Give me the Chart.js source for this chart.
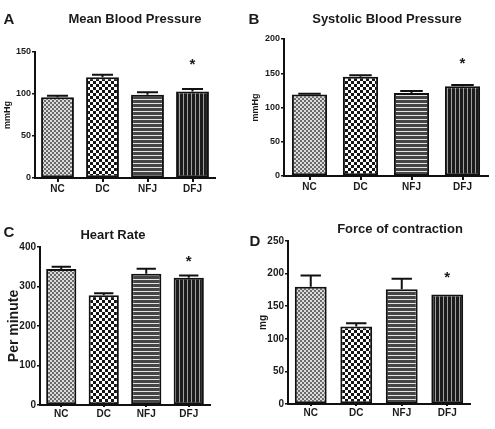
<!DOCTYPE html>
<html>
<head>
<title>Cardiovascular parameters</title>
<script src="https://cdn.jsdelivr.net/npm/chart.js"></script>
<style>
  body { margin: 0; background: #fff; font-family: "Liberation Sans", Arial, sans-serif; }
  #wrap { position: relative; width: 495px; height: 429px; }
  #wrap canvas { position: absolute; left: 0; top: 0; }
  .lbl { position: absolute; font-weight: bold; color: #1a1a1a; white-space: nowrap;
         transform: translate(-50%, -50%); line-height: 1; }
</style>
</head>
<body>
<div id="wrap">
  <canvas id="cA" width="495" height="429"></canvas>
  <canvas id="cB" width="495" height="429"></canvas>
  <canvas id="cC" width="495" height="429"></canvas>
  <canvas id="cD" width="495" height="429"></canvas>

  <div class="lbl" style="left:9px;top:18px;font-size:15px">A</div>
  <div class="lbl" style="left:135px;top:18px;font-size:13px">Mean Blood Pressure</div>
  <div class="lbl" style="left:254px;top:18px;font-size:15px">B</div>
  <div class="lbl" style="left:387px;top:18px;font-size:13px">Systolic Blood Pressure</div>
  <div class="lbl" style="left:9px;top:231px;font-size:15px">C</div>
  <div class="lbl" style="left:113px;top:234px;font-size:13px">Heart Rate</div>
  <div class="lbl" style="left:255px;top:240px;font-size:15px">D</div>
  <div class="lbl" style="left:400px;top:228px;font-size:13px">Force of contraction</div>
</div>
<script>
// groups
const groups = ['NC', 'DC', 'NFJ', 'DFJ'];

// mean values and top of the error bar (mean + SEM)
const mbpMean = [96, 120, 99, 103];
const mbpUpper = [98, 123, 102, 106];
const sbpMean = [119, 145, 121, 131];
const sbpUpper = [120, 147, 124, 133];
const hrMean = [344, 278, 332, 322];
const hrUpper = [350, 283, 345, 328];
const focMean = [180, 119, 176, 168];
const focUpper = [197, 124, 192, 168];

// where the significance star sits above DFJ, in axis units
const starValue = [138, 168, 371, 198];

// axis ranges
const yMaxes = [150, 200, 400, 250];
const ySteps = [50, 50, 100, 50];

const W = 495, H = 429;
const ink = '#1a1a1a';

function tile(size, paint) {
  const c = document.createElement('canvas');
  c.width = size; c.height = size;
  const g = c.getContext('2d');
  paint(g);
  return g.createPattern(c, 'repeat');
}

// fill patterns, one per group
const fills = [
  tile(4, g => {   // fine grey check
    g.fillStyle = '#dcdcdc'; g.fillRect(0, 0, 4, 4);
    g.fillStyle = '#6a6a6a'; g.fillRect(0, 0, 2, 2); g.fillRect(2, 2, 2, 2);
  }),
  tile(6, g => {   // coarse black/white check
    g.fillStyle = '#fff'; g.fillRect(0, 0, 6, 6);
    g.fillStyle = '#151515'; g.fillRect(0, 0, 3, 3); g.fillRect(3, 3, 3, 3);
  }),
  tile(4, g => {   // horizontal stripes
    g.fillStyle = '#454545'; g.fillRect(0, 0, 4, 4);
    g.fillStyle = '#e4e4e4'; g.fillRect(0, 3, 4, 1);
  }),
  tile(4, g => {   // vertical stripes
    g.fillStyle = '#1c1c1c'; g.fillRect(0, 0, 4, 4);
    g.fillStyle = '#a0a0a0'; g.fillRect(3, 0, 1, 4);
  })
];

const errorBars = {
  id: 'errorBars',
  afterDatasetsDraw(chart, args, opts) {
    const meta = chart.getDatasetMeta(0);
    const y = chart.scales.y;
    const vals = chart.data.datasets[0].data;
    const ctx = chart.ctx;
    ctx.save();
    ctx.strokeStyle = '#111';
    ctx.lineWidth = 2;
    meta.data.forEach((bar, i) => {
      if (opts.upper[i] <= vals[i]) return;
      const top = y.getPixelForValue(opts.upper[i]);
      const half = bar.width * 0.32;
      ctx.beginPath();
      ctx.moveTo(bar.x, bar.y);
      ctx.lineTo(bar.x, top);
      ctx.moveTo(bar.x - half, top);
      ctx.lineTo(bar.x + half, top);
      ctx.stroke();
    });
    const b = meta.data[3];
    ctx.fillStyle = ink;
    ctx.font = 'bold 15px "Liberation Sans"';
    ctx.textAlign = 'center';
    ctx.textBaseline = 'middle';
    ctx.fillText('*', b.x, y.getPixelForValue(opts.star) + 3);
    ctx.restore();
  }
};

function panel(id, means, upper, star, yMax, yStep, area, yTitle) {
  const xh = area.xh;
  new Chart(document.getElementById(id), {
    type: 'bar',
    data: {
      labels: groups,
      datasets: [{
        data: means,
        backgroundColor: fills,
        borderColor: '#111',
        borderWidth: 2,
        borderSkipped: false,
        barPercentage: area.bar,
        categoryPercentage: 1
      }]
    },
    options: {
      responsive: false,
      animation: false,
      events: [],
      layout: {
        padding: { left: area.l - area.yw, right: W - area.r, top: area.t, bottom: H - area.b - xh }
      },
      plugins: {
        legend: { display: false },
        tooltip: { enabled: false },
        errorBars: { upper: upper, star: star }
      },
      scales: {
        x: {
          afterFit: s => { s.height = xh; },
          grid: { offset: false, drawOnChartArea: false, drawTicks: true, tickLength: area.xt, color: '#111', lineWidth: 2 },
          border: { color: '#111', width: 2 },
          ticks: { color: ink, padding: 1, font: { family: 'Liberation Sans', size: 10, weight: 'bold' } }
        },
        y: {
          min: 0, max: yMax,
          afterFit: s => { s.width = area.yw; },
          grid: { drawOnChartArea: false, drawTicks: true, tickLength: 3, color: '#111', lineWidth: 1.5 },
          border: { color: '#111', width: 2 },
          ticks: { stepSize: yStep, color: ink, padding: 1, font: { family: 'Liberation Sans', size: area.tf, weight: 'bold' } },
          title: { display: true, text: yTitle, color: ink, padding: 0,
                   font: { family: 'Liberation Sans', size: area.yf, weight: 'bold' } }
        }
      }
    },
    plugins: [errorBars]
  });
}

panel('cA', mbpMean, mbpUpper, starValue[0], yMaxes[0], ySteps[0],
  { l: 35, r: 215, t: 52, b: 178, yw: 33, xh: 20, xt: 4, bar: 0.73, tf: 9, yf: 9 }, 'mmHg');
panel('cB', sbpMean, sbpUpper, starValue[1], yMaxes[1], ySteps[1],
  { l: 284, r: 488, t: 39, b: 176, yw: 34, xh: 20, xt: 4, bar: 0.69, tf: 9, yf: 9 }, 'mmHg');
panel('cC', hrMean, hrUpper, starValue[2], yMaxes[2], ySteps[2],
  { l: 40, r: 210, t: 247, b: 405, yw: 34, xh: 16, xt: 2, bar: 0.71, tf: 10, yf: 14 }, 'Per minute');
panel('cD', focMean, focUpper, starValue[3], yMaxes[3], ySteps[3],
  { l: 288, r: 470, t: 241, b: 404, yw: 31, xh: 16, xt: 2, bar: 0.70, tf: 10, yf: 10 }, 'mg');
</script>
</body>
</html>
